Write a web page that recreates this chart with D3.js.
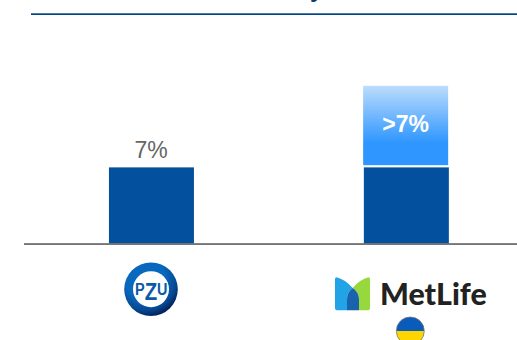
<!DOCTYPE html>
<html>
<head>
<meta charset="utf-8">
<script src="https://cdn.jsdelivr.net/npm/d3@7"></script>
<style>
html,body{margin:0;padding:0;background:#fff;overflow:hidden}
svg{display:block}
text{font-family:"Liberation Sans",Arial,sans-serif}
</style>
</head>
<body>
<svg id="chart" width="517" height="340"></svg>
<script>
// Market share by insurer: a base share plus an expected uplift
const categories = ["PZU", "MetLife"];
const baseShare = [7, 7];
const upliftShare = [0, 7.3];
const baseLabels = ["7%", ""];
const upliftLabels = ["", ">7%"];

const svg = d3.select("#chart");
const defs = svg.append("defs");

const x = d3.scaleBand().domain(categories).range([24, 533.8]).paddingInner(0).paddingOuter(0);
const barWidth = 85;
const barX = c => x(c) + (x.bandwidth() - barWidth) / 2;
const y = d3.scaleLinear().domain([0, 14.3]).range([243.5, 88]);

// Gradient for the uplift segment
const upliftGrad = defs.append("linearGradient").attr("id", "uplift")
  .attr("x1", 0).attr("y1", 0).attr("x2", 0).attr("y2", 1);
upliftGrad.append("stop").attr("offset", "0%").attr("stop-color", "#bcdcfd");
upliftGrad.append("stop").attr("offset", "72%").attr("stop-color", "#2e96fe");
upliftGrad.append("stop").attr("offset", "100%").attr("stop-color", "#2e96fe");

// Ring shading for the PZU badge
const ring = defs.append("radialGradient").attr("id", "pzuRing")
  .attr("cx", "38%").attr("cy", "30%").attr("r", "75%");
ring.append("stop").attr("offset", "50%").attr("stop-color", "#0868bd");
ring.append("stop").attr("offset", "78%").attr("stop-color", "#064a94");
ring.append("stop").attr("offset", "100%").attr("stop-color", "#04184e");

// Rule under the page heading and the descender of its last visible letter
svg.append("text").attr("x", 310).attr("y", -3.2)
  .attr("font-size", 24).attr("font-weight", 700).attr("fill", "#0a3a78").text("y");
svg.append("rect").attr("x", 31).attr("y", 13.3).attr("width", 486).attr("height", 1.7)
  .attr("fill", "#024587");

// Base bars
svg.selectAll("rect.base").data(categories).join("rect")
  .attr("class", "base")
  .attr("x", barX)
  .attr("width", barWidth)
  .attr("y", (d, i) => y(baseShare[i]))
  .attr("height", (d, i) => y(0) - y(baseShare[i]))
  .attr("fill", "#03519e");

// Uplift segments stacked above the base with a small gap
const gap = 2.2;
svg.selectAll("rect.uplift").data(categories.filter((d, i) => upliftShare[i] > 0)).join("rect")
  .attr("class", "uplift")
  .attr("x", d => barX(d) - 0.7)
  .attr("width", barWidth)
  .attr("y", d => {
    const i = categories.indexOf(d);
    return y(baseShare[i] + upliftShare[i]) - gap;
  })
  .attr("height", d => {
    const i = categories.indexOf(d);
    return y(baseShare[i]) - y(baseShare[i] + upliftShare[i]);
  })
  .attr("fill", "url(#uplift)");

// Value labels
svg.selectAll("text.base").data(categories).join("text")
  .attr("class", "base")
  .attr("x", d => barX(d) + barWidth / 2 - 0.4)
  .attr("y", (d, i) => y(baseShare[i]) - 9.2)
  .attr("text-anchor", "middle")
  .attr("font-size", 23)
  .attr("fill", "#666666")
  .text((d, i) => baseLabels[i]);

svg.selectAll("text.uplift").data(categories).join("text")
  .attr("class", "uplift")
  .attr("x", d => barX(d) + barWidth / 2 - 0.8)
  .attr("y", (d, i) => y(baseShare[i] + upliftShare[i] / 2) + 4)
  .attr("text-anchor", "middle")
  .attr("font-size", 23)
  .attr("font-weight", 700)
  .attr("fill", "#ffffff")
  .text((d, i) => upliftLabels[i]);

// Baseline
svg.append("rect").attr("x", 24).attr("y", 243.2).attr("width", 493).attr("height", 1.7)
  .attr("fill", "#666666");

// PZU badge
const pzu = svg.append("g").attr("transform", "translate(151,289.2)");
pzu.append("circle").attr("r", 26.8).attr("fill", "url(#pzuRing)");
pzu.append("circle").attr("r", 18).attr("fill", "#ffffff");
const pzuWord = pzu.append("text").attr("text-anchor", "middle")
  .attr("transform", "translate(0.3,5.5) scale(0.85,1)")
  .attr("font-weight", 700).attr("fill", "#0a5aa8");
pzuWord.append("tspan").attr("font-size", 17).text("P");
pzuWord.append("tspan").attr("font-size", 24).attr("dy", 5).text("Z");
pzuWord.append("tspan").attr("font-size", 17).attr("dy", -5).text("U");

// MetLife mark and wordmark
const met = svg.append("g").attr("transform", "translate(335,277.3)");
met.append("path").attr("d", "M1.5,0 Q0,0 0,2 L0,31 Q0,33 2,33 L12,33 L12,22 Q12,15 17.7,10.8 Q10,2 1.5,0 Z").attr("fill", "#21a3e6");
met.append("path").attr("d", "M33.5,0 Q35,0 35,2 L35,31 Q35,33 33,33 L24,33 L24,22 Q24,15 17.7,10.8 Q25,2 33.5,0 Z").attr("fill", "#97d83c");
met.append("path").attr("d", "M12,33 L12,22 Q12,15 17.7,10.8 Q24,15 24,22 L24,33 Z").attr("fill", "#1a63aa");
svg.append("text").attr("x", 380).attr("y", 305)
  .attr("font-size", 30.4).attr("font-weight", 900).attr("fill", "#222222")
  .attr("style", "font-family:Lato,'Open Sans',sans-serif")
  .text("MetLife");

// Ukrainian flag roundel
const flagCx = 410.3, flagCy = 331, flagR = 14;
const flagClip = defs.append("clipPath").attr("id", "flagClip");
flagClip.append("circle").attr("cx", flagCx).attr("cy", flagCy).attr("r", flagR);
const flag = svg.append("g").attr("clip-path", "url(#flagClip)");
flag.append("rect").attr("x", flagCx - flagR).attr("y", flagCy - flagR).attr("width", 2 * flagR).attr("height", flagR).attr("fill", "#0a5cba");
flag.append("rect").attr("x", flagCx - flagR).attr("y", flagCy).attr("width", 2 * flagR).attr("height", flagR).attr("fill", "#ffd500");
svg.append("circle").attr("cx", flagCx).attr("cy", flagCy).attr("r", flagR)
  .attr("fill", "none").attr("stroke", "#777777").attr("stroke-width", 0.8);
</script>
</body>
</html>
